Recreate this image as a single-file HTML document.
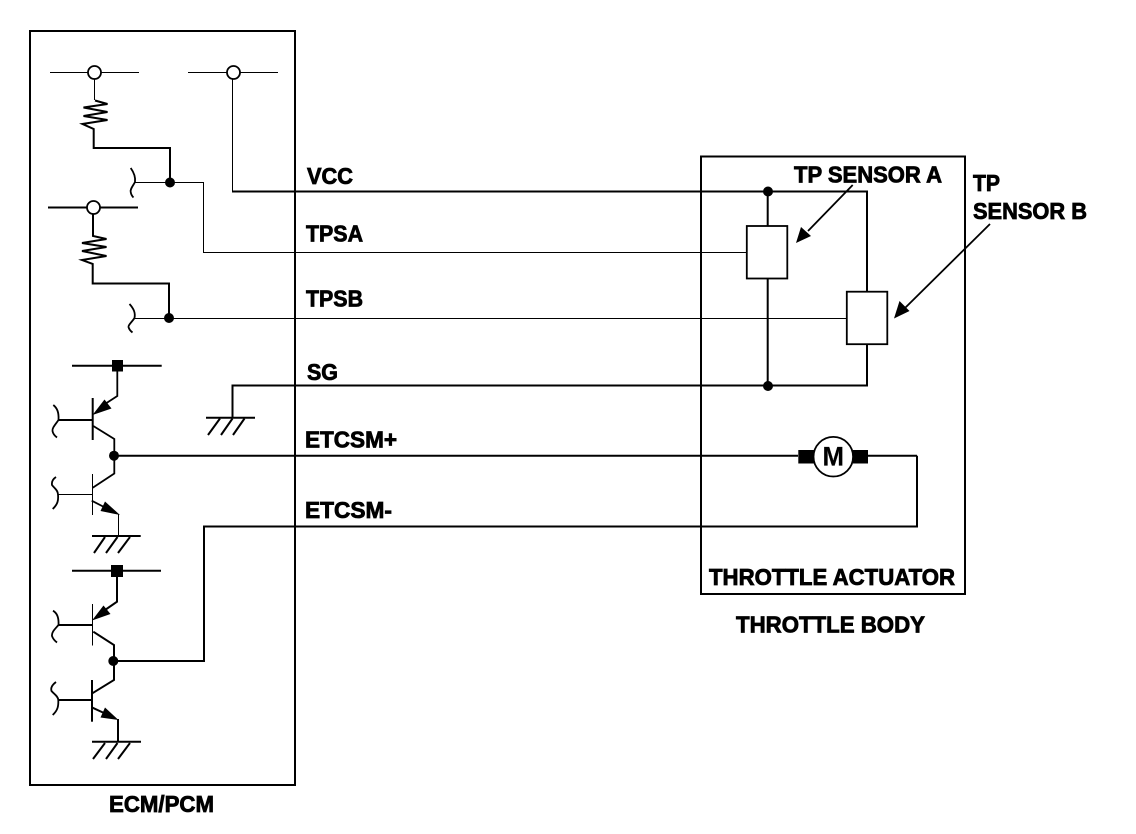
<!DOCTYPE html>
<html><head><meta charset="utf-8"><style>
html,body{margin:0;padding:0;background:#fff}
svg{display:block}
text{font-family:"Liberation Sans",Arial,sans-serif;font-weight:bold;fill:#000;stroke:#000;stroke-width:.8px;font-size:23px}
.l{fill:none;stroke:#000;stroke-width:1.8}
.t{fill:none;stroke:#000;stroke-width:1;shape-rendering:crispEdges}
.h{fill:none;stroke:#000;stroke-width:2}
.d{fill:#000;stroke:none}
.o{fill:#fff;stroke:#000;stroke-width:1.8}
</style></head><body>
<svg width="1136" height="834" viewBox="0 0 1136 834" xmlns="http://www.w3.org/2000/svg">
<rect width="1136" height="834" fill="#fff"/>
<rect class="h" x="30" y="31" width="265" height="754"/>
<rect class="h" x="701" y="156.500" width="264" height="437.500"/>

<!-- top supply -->
<path class="t" d="M50 72.500H139M188 72.500H278"/>
<circle class="o" cx="94.500" cy="72.500" r="6.500"/><circle class="o" cx="233.500" cy="72.500" r="6.500"/>
<path class="t" d="M94.500 79V100"/>
<path class="h" d="M95 100.500L107.500 104 83.500 107.500 107.500 112 83.500 116 107.500 120 82.500 124 93.700 129V148H170V182"/>
<path class="l" d="M130.700 168C135 174 135.500 178 135 182 133 186 130 189 130.700 192 131 194 132 196 133.500 197.500"/>
<path class="t" d="M135 182.500H203.500V252.500H747"/>
<circle class="d" cx="170" cy="182.500" r="5"/>
<path class="t" d="M232.500 79V191.500"/>
<path class="h" d="M232 191.500H867V292M867 344V385.500H232.500V418"/>

<path class="h" d="M48 207.500H87M100 207.500H138"/>
<circle class="o" cx="93.500" cy="207.500" r="6.500"/>
<path class="h" d="M93 214V236L106.500 239 82 243 106.500 247 82 251 106.500 256 82 260 92.700 264V283.500H169V318"/>
<path class="l" d="M129.500 304C134 309 135.500 313 134.500 318 132 322 128 325 128.500 327 129 329 130.500 331 132.500 332.500"/>
<path class="t" d="M134.500 318.500H847"/>
<circle class="d" cx="169" cy="318" r="5"/>

<!-- transistor 1 -->
<path class="h" d="M72 365.700H161.700"/>
<rect class="d" x="112" y="360" width="11" height="11.500"/>
<path class="l" d="M117.300 366V396L105 404"/>
<polygon class="d" points="92.500,415 104.500,399.500 111.500,408.500"/>
<path class="h" d="M92.700 398V440"/>
<path class="h" d="M58 420H92.700"/>
<path class="l" d="M53.300 405C57 408 59 412 58.500 420 55 425 52 428 52.500 431 53 434 55 436 57 437.500"/>
<path class="l" d="M93.300 426L114.300 439V473.500L92.700 487.700"/>
<path class="t" d="M92.500 474V515M58 494.500H92.500"/>
<path class="l" d="M56 477C53 479 51.500 482 52 485 54 488 58 490 58 494.500 58.500 500 58 504 52.700 509"/>
<path class="l" d="M91.700 500.700L104 507"/>
<polygon class="d" points="120,515 105,501.500 100.500,511"/>
<path class="t" d="M118.500 514V536"/>
<path class="h" d="M92 536H140.700"/>
<path class="h" d="M105 537L94 553M117.500 537L106 553M130 537L118 553"/>
<circle class="d" cx="114" cy="455.700" r="5"/>
<path class="h" d="M114 455.700H798"/>

<!-- SG ground -->
<path class="h" d="M206 417.700H255"/>
<path class="h" d="M220 418.500L208 435M232.500 418.500L221 435M244.500 418.500L233 435"/>

<!-- ETCSM- -->
<path class="h" d="M113 661H204V526.500H917V455.700"/>

<!-- transistor 2 -->
<path class="h" d="M72 570.700H161"/>
<rect class="d" x="111" y="565" width="12" height="12"/>
<path class="h" d="M117 571V601.700L105 610"/>
<polygon class="d" points="92,620.500 103.500,605.500 110.500,614"/>
<path class="t" d="M92.500 604V645.700"/>
<path class="h" d="M58 625H92.300"/>
<path class="l" d="M53 610.700C57 613 59 617 58.500 625 55 629 51.500 632 52 636 53 639 55 641 57 642.500"/>
<path class="h" d="M93.300 631.700L114 645V680L92.300 693.300"/>
<path class="h" d="M92 680V721.700"/>
<path class="h" d="M58 700H92"/>
<path class="l" d="M56 682C52 685 50.500 688 51.500 691 54 694 58 696 58.300 700 58.500 706 58 710 52.700 715"/>
<path class="h" d="M91.700 707.300L104 713"/>
<polygon class="d" points="118.500,720 105,707.500 100.500,717.500"/>
<path class="h" d="M118 719V741.700"/>
<path class="h" d="M92 741.700H141"/>
<path class="h" d="M105 743L93 759M117.500 743L106 759M130 743L118 759"/>
<circle class="d" cx="113.300" cy="661" r="5"/>

<!-- sensors -->
<path class="h" d="M767.700 191.500V226M767.700 278V385.500"/>
<circle class="d" cx="768" cy="191.500" r="5"/><circle class="d" cx="768" cy="386" r="5"/>
<rect class="o" x="746.800" y="226" width="40.500" height="52.500"/>
<rect class="o" x="846.800" y="291.700" width="40.500" height="52.500"/>
<path class="l" d="M852.700 185L808 231"/>
<polygon class="d" points="796,243 801,227 811,236"/>
<path class="l" d="M990 224L905 308"/>
<polygon class="d" points="894,318.500 899.500,301 909.500,311"/>

<!-- motor -->
<rect class="d" x="798.300" y="450" width="16" height="13.500"/>
<rect class="d" x="853" y="450" width="15" height="13.500"/>
<circle class="o" cx="833.300" cy="456.700" r="19.800"/>
<path class="h" d="M868 455.700H917"/>
<text x="822.500" y="465.500" style="font-size:27px;stroke-width:.2px" textLength="21.500" lengthAdjust="spacingAndGlyphs">M</text>

<text x="307" y="184" textLength="46" lengthAdjust="spacingAndGlyphs">VCC</text>
<text x="306" y="241.500" textLength="57" lengthAdjust="spacingAndGlyphs">TPSA</text>
<text x="306" y="306.700" textLength="57" lengthAdjust="spacingAndGlyphs">TPSB</text>
<text x="307" y="380" textLength="31" lengthAdjust="spacingAndGlyphs">SG</text>
<text x="305" y="447.500" textLength="92" lengthAdjust="spacingAndGlyphs">ETCSM+</text>
<text x="305" y="518" textLength="87" lengthAdjust="spacingAndGlyphs">ETCSM-</text>
<text x="794" y="182.500" textLength="148" lengthAdjust="spacingAndGlyphs">TP SENSOR A</text>
<text x="973" y="191" textLength="27" lengthAdjust="spacingAndGlyphs">TP</text>
<text x="973" y="219" textLength="114" lengthAdjust="spacingAndGlyphs">SENSOR B</text>
<text x="709" y="585" textLength="246" lengthAdjust="spacingAndGlyphs">THROTTLE ACTUATOR</text>
<text x="736" y="632.500" textLength="189" lengthAdjust="spacingAndGlyphs">THROTTLE BODY</text>
<text x="109" y="812" textLength="105" lengthAdjust="spacingAndGlyphs">ECM/PCM</text>
</svg>
</body></html>
